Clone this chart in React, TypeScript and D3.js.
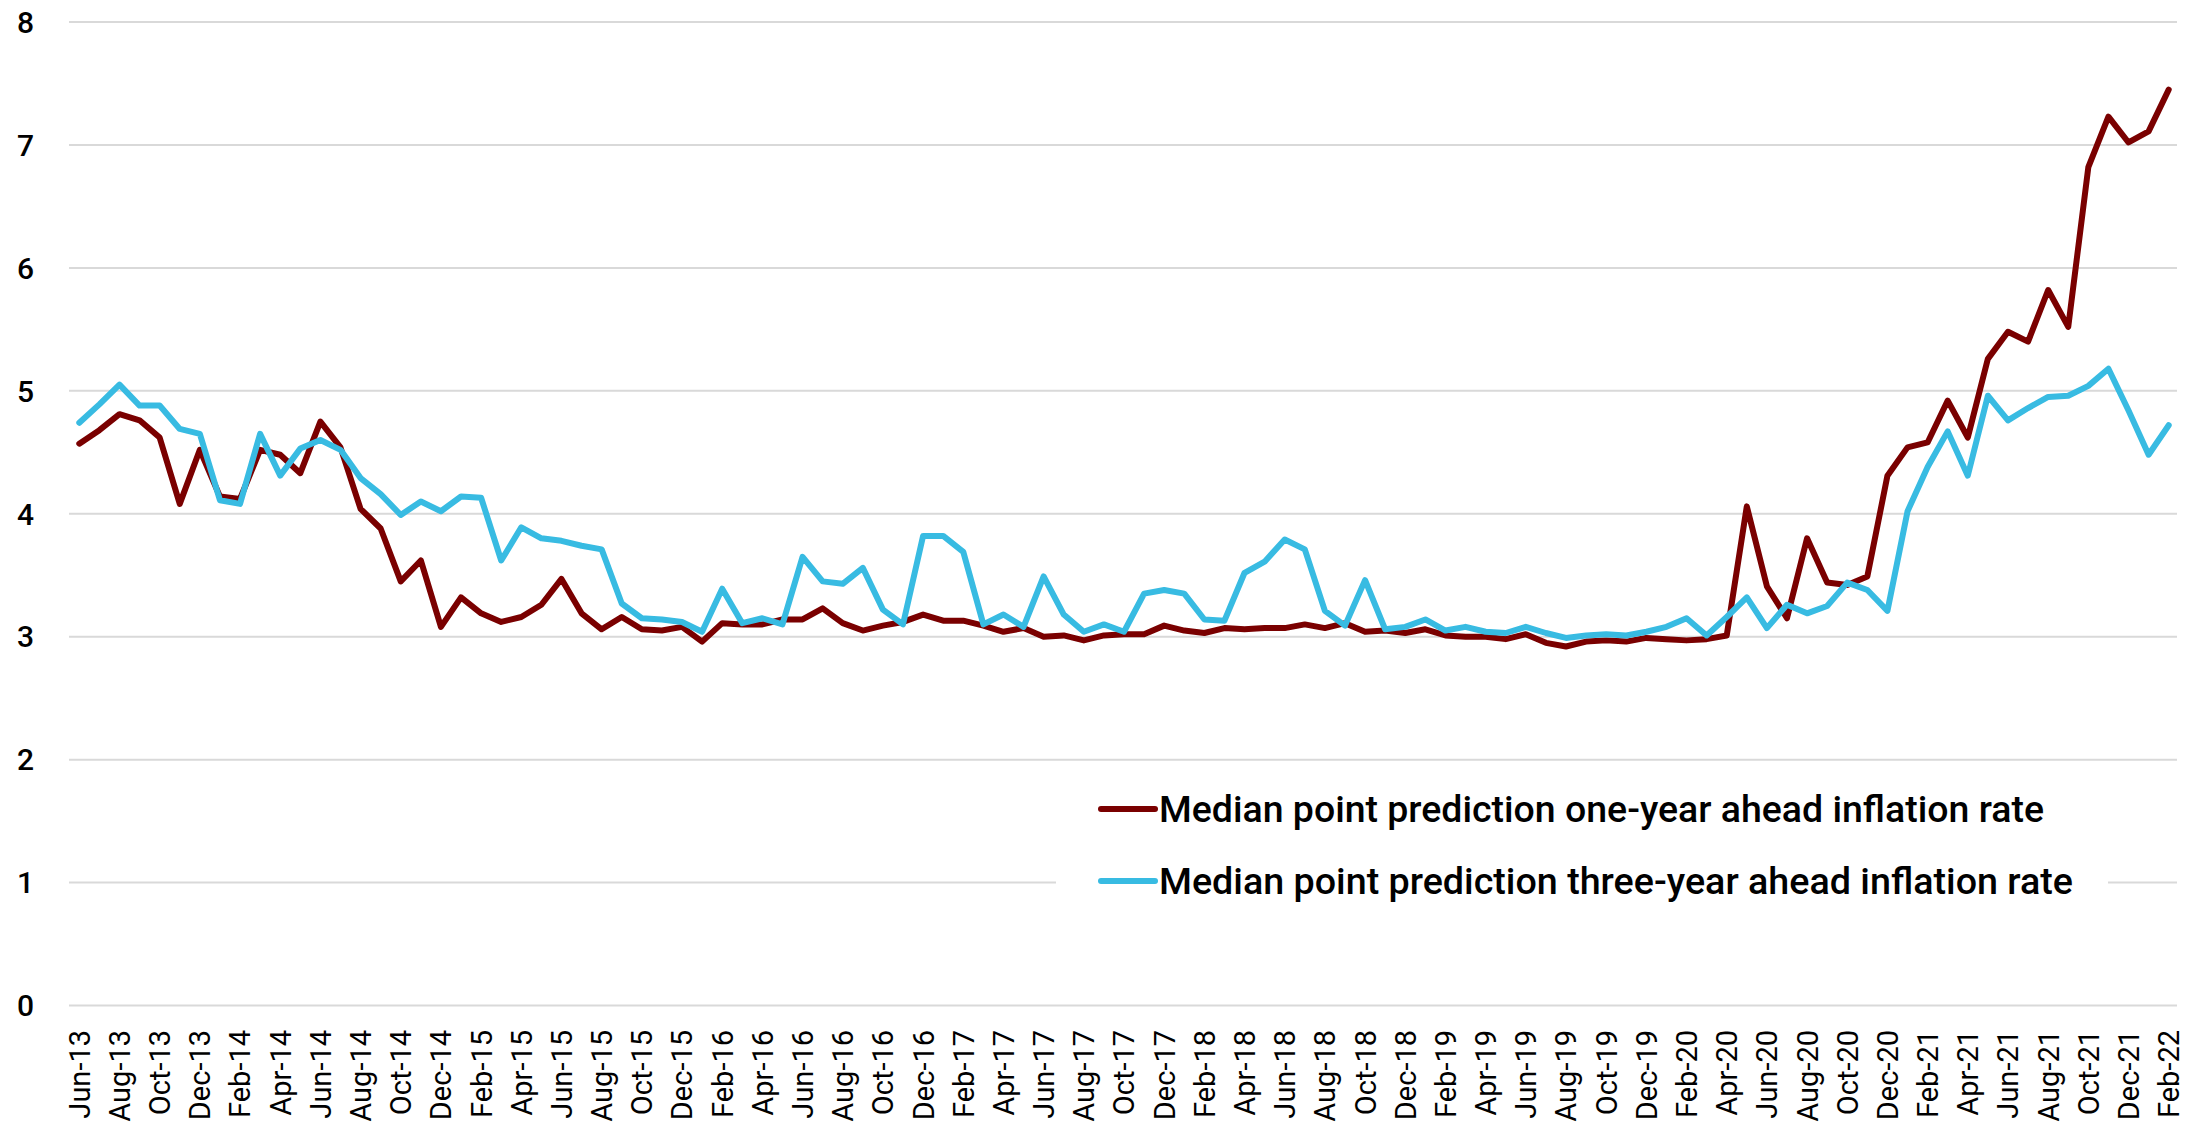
import React from "react";
import * as d3 from "d3";

const months: string[] = (
  "Jun-13 Jul-13 Aug-13 Sep-13 Oct-13 Nov-13 Dec-13 " +
  "Jan-14 Feb-14 Mar-14 Apr-14 May-14 Jun-14 Jul-14 Aug-14 Sep-14 Oct-14 Nov-14 Dec-14 " +
  "Jan-15 Feb-15 Mar-15 Apr-15 May-15 Jun-15 Jul-15 Aug-15 Sep-15 Oct-15 Nov-15 Dec-15 " +
  "Jan-16 Feb-16 Mar-16 Apr-16 May-16 Jun-16 Jul-16 Aug-16 Sep-16 Oct-16 Nov-16 Dec-16 " +
  "Jan-17 Feb-17 Mar-17 Apr-17 May-17 Jun-17 Jul-17 Aug-17 Sep-17 Oct-17 Nov-17 Dec-17 " +
  "Jan-18 Feb-18 Mar-18 Apr-18 May-18 Jun-18 Jul-18 Aug-18 Sep-18 Oct-18 Nov-18 Dec-18 " +
  "Jan-19 Feb-19 Mar-19 Apr-19 May-19 Jun-19 Jul-19 Aug-19 Sep-19 Oct-19 Nov-19 Dec-19 " +
  "Jan-20 Feb-20 Mar-20 Apr-20 May-20 Jun-20 Jul-20 Aug-20 Sep-20 Oct-20 Nov-20 Dec-20 " +
  "Jan-21 Feb-21 Mar-21 Apr-21 May-21 Jun-21 Jul-21 Aug-21 Sep-21 Oct-21 Nov-21 Dec-21 " +
  "Jan-22 Feb-22"
).split(" ");

const oneYear: number[] = [
  4.57, 4.68, 4.81, 4.76, 4.62, 4.08, 4.52,
  4.14, 4.12, 4.52, 4.48, 4.33, 4.75, 4.54, 4.04, 3.88, 3.45, 3.62, 3.08,
  3.32, 3.19, 3.12, 3.16, 3.26, 3.47, 3.19, 3.06, 3.16, 3.06, 3.05, 3.08,
  2.96, 3.11, 3.10, 3.10, 3.14, 3.14, 3.23, 3.11, 3.05, 3.09, 3.12, 3.18,
  3.13, 3.13, 3.09, 3.04, 3.07, 3.00, 3.01, 2.97, 3.01, 3.02, 3.02, 3.09,
  3.05, 3.03, 3.07, 3.06, 3.07, 3.07, 3.10, 3.07, 3.11, 3.04, 3.05, 3.03,
  3.06, 3.01, 3.00, 3.00, 2.98, 3.02, 2.95, 2.92, 2.96, 2.97, 2.96, 2.99,
  2.98, 2.97, 2.98, 3.01, 4.06, 3.41, 3.15, 3.80, 3.44, 3.42, 3.49, 4.31,
  4.54, 4.58, 4.92, 4.62, 5.26, 5.48, 5.40, 5.82, 5.52, 6.82, 7.23, 7.02,
  7.11, 7.45,
];

const threeYear: number[] = [
  4.74, 4.89, 5.05, 4.88, 4.88, 4.69, 4.65,
  4.11, 4.08, 4.65, 4.31, 4.53, 4.60, 4.52, 4.29, 4.16, 3.99, 4.10, 4.02,
  4.14, 4.13, 3.62, 3.89, 3.80, 3.78, 3.74, 3.71, 3.27, 3.15, 3.14, 3.12,
  3.04, 3.39, 3.11, 3.15, 3.10, 3.65, 3.45, 3.43, 3.56, 3.22, 3.10, 3.82,
  3.82, 3.69, 3.10, 3.18, 3.08, 3.49, 3.18, 3.04, 3.10, 3.04, 3.35, 3.38,
  3.35, 3.14, 3.13, 3.52, 3.61, 3.79, 3.71, 3.21, 3.09, 3.46, 3.06, 3.08,
  3.14, 3.05, 3.08, 3.04, 3.03, 3.08, 3.03, 2.99, 3.01, 3.02, 3.01, 3.04,
  3.08, 3.15, 3.01, 3.16, 3.32, 3.07, 3.26, 3.19, 3.25, 3.44, 3.38, 3.21,
  4.02, 4.38, 4.67, 4.31, 4.96, 4.76, 4.86, 4.95, 4.96, 5.04, 5.18, 4.84,
  4.48, 4.72,
];

const yTicks: number[] = [0, 1, 2, 3, 4, 5, 6, 7, 8];
const xTickLabels: string[] = months.filter((_, i) => i % 2 === 0);

const seriesNames: string[] = [
  "Median point prediction one-year ahead inflation rate",
  "Median point prediction three-year ahead inflation rate",
];
const seriesColors: string[] = ["#7a0000", "#38bbe2"];

const W = 2201;
const H = 1132;

export default function App() {
  const x = d3.scalePoint<string>().domain(months).range([79.3, 2168.7]);
  const y = d3.scaleLinear().domain([0, 8]).range([1005.5, 22]);
  const line = d3
    .line<number>()
    .x((_, i) => x(months[i]) as number)
    .y((d) => y(d));
  const series = [oneYear, threeYear];
  const legendY = [809, 881];
  const legendWidths = [885, 914];

  return (
    <svg
      width={W}
      height={H}
      style={{ position: "absolute", left: 0, top: 0, background: "#fff" }}
    >
      <rect x={0} y={0} width={W} height={H} fill="#fff" />
      {yTicks.map((t) => (
        <g key={t}>
          <line x1={69} x2={2177} y1={y(t)} y2={y(t)} stroke="#d9d9d9" strokeWidth={2} />
          <text
            x={34}
            y={y(t)}
            dy="0.36em"
            textAnchor="end"
            fontFamily="Roboto, 'DejaVu Sans'"
            fontWeight={500}
            fontSize={30}
            fill="#000"
          >
            {t}
          </text>
        </g>
      ))}
      {xTickLabels.map((m) => (
        <text
          key={m}
          transform={`translate(${x(m)},1030) rotate(-90)`}
          dy="0.36em"
          textAnchor="end"
          fontFamily="Roboto, 'Liberation Sans'"
          fontSize={29}
          fill="#000"
        >
          {m}
        </text>
      ))}
      {series.map((s, k) => (
        <path
          key={k}
          d={line(s) || ""}
          fill="none"
          stroke={seriesColors[k]}
          strokeWidth={6}
          strokeLinejoin="round"
          strokeLinecap="round"
        />
      ))}
      <rect x={1056} y={772} width={1052} height={150} fill="#fff" />
      {seriesNames.map((n, k) => (
        <g key={n}>
          <line
            x1={1101}
            x2={1155}
            y1={legendY[k]}
            y2={legendY[k]}
            stroke={seriesColors[k]}
            strokeWidth={6}
            strokeLinecap="round"
          />
          <text
            x={1159}
            y={legendY[k]}
            dy="0.36em"
            fontFamily="Roboto, 'DejaVu Sans'"
            fontWeight={500}
            fontSize={36.5}
            textLength={legendWidths[k]}
            lengthAdjust="spacingAndGlyphs"
            fill="#000"
          >
            {n}
          </text>
        </g>
      ))}
    </svg>
  );
}
